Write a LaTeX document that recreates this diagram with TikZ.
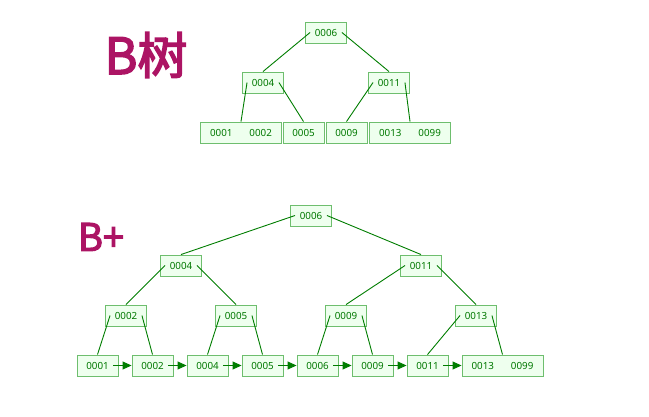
\documentclass[tikz,border=0pt]{standalone}
\usepackage{fontspec}
\setmainfont{Noto Sans}
\newfontfamily\cjk[AutoFakeBold=3]{Noto Sans CJK SC}
\usetikzlibrary{arrows.meta}
\definecolor{keytext}{RGB}{0,120,0}
\definecolor{keyline}{RGB}{0,125,0}
\definecolor{boxdraw}{RGB}{110,190,110}
\definecolor{boxfill}{RGB}{238,255,238}
\definecolor{title}{RGB}{172,20,100}
\tikzset{
  x=1pt, y=1pt,
  keybox/.style={draw=boxdraw, fill=boxfill, line width=0.9pt, minimum width=41pt, minimum height=21pt,
    inner sep=0pt, text=keytext, font=\fontsize{9.8}{10}\selectfont},
  widebox/.style={keybox, minimum width=81pt},
  edge/.style={draw=keyline, line width=0.9pt},
  link/.style={draw=keyline, line width=0.9pt, -{Triangle[length=9pt,width=8pt]}},
  titletext/.style={text=title, inner sep=0pt, font=\cjk\bfseries\fontsize{50}{54}\selectfont},
  titlesmall/.style={titletext, font=\cjk\bfseries\fontsize{38}{42}\selectfont}
}
\begin{document}
\begin{tikzpicture}
\useasboundingbox (0,0) rectangle (649,-417);
% titles
\node[titletext] (t1) at (146,-55) {B树};
\node[titlesmall] (t2) at (101,-237) {B+};

% B tree
\node[keybox] (a6) at (326,-32.5) {0006};
\node[keybox] (a4) at (263,-82.5) {0004};
\node[keybox] (a11) at (389,-82.5) {0011};
\node[widebox] (l1) at (241,-132.5) {0001\hspace{17pt}0002};
\node[keybox] (l2) at (303.5,-132.5) {0005};
\node[keybox] (l3) at (346.5,-132.5) {0009};
\node[widebox] (l4) at (410,-132.5) {0013\hspace{17pt}0099};

\draw[edge] ([xshift=5pt]a6.west) -- (a4.north);
\draw[edge] ([xshift=-5pt]a6.east) -- (a11.north);
\draw[edge] ([xshift=5pt]a4.west) -- (l1.north);
\draw[edge] ([xshift=-5pt]a4.east) -- (l2.north);
\draw[edge] ([xshift=5pt]a11.west) -- (l3.north);
\draw[edge] ([xshift=-5pt]a11.east) -- (l4.north);

% B+ tree
\node[keybox] (b6) at (311,-215.5) {0006};
\node[keybox] (b4) at (181,-265.5) {0004};
\node[keybox] (b11) at (421,-265.5) {0011};
\node[keybox] (c2) at (126,-315.5) {0002};
\node[keybox] (c5) at (236,-315.5) {0005};
\node[keybox] (c9) at (346,-315.5) {0009};
\node[keybox] (c13) at (476,-315.5) {0013};
\node[keybox] (d1) at (97.5,-365.5) {0001};
\node[keybox] (d2) at (152.5,-365.5) {0002};
\node[keybox] (d4) at (207.5,-365.5) {0004};
\node[keybox] (d5) at (262.5,-365.5) {0005};
\node[keybox] (d6) at (317.5,-365.5) {0006};
\node[keybox] (d9) at (372.5,-365.5) {0009};
\node[keybox] (d11) at (427.5,-365.5) {0011};
\node[widebox] (d13) at (502.5,-365.5) {0013\hspace{17pt}0099};

\draw[edge] ([xshift=5pt]b6.west) -- (b4.north);
\draw[edge] ([xshift=-5pt]b6.east) -- (b11.north);
\draw[edge] ([xshift=5pt]b4.west) -- (c2.north);
\draw[edge] ([xshift=-5pt]b4.east) -- (c5.north);
\draw[edge] ([xshift=5pt]b11.west) -- (c9.north);
\draw[edge] ([xshift=-5pt]b11.east) -- (c13.north);
\draw[edge] ([xshift=5pt]c2.west) -- (d1.north);
\draw[edge] ([xshift=-5pt]c2.east) -- (d2.north);
\draw[edge] ([xshift=5pt]c5.west) -- (d4.north);
\draw[edge] ([xshift=-5pt]c5.east) -- (d5.north);
\draw[edge] ([xshift=5pt]c9.west) -- (d6.north);
\draw[edge] ([xshift=-5pt]c9.east) -- (d9.north);
\draw[edge] ([xshift=5pt]c13.west) -- (d11.north);
\draw[edge] ([xshift=-5pt]c13.east) -- (d13.north);

\draw[link] ([xshift=-5pt]d1.east) -- (d2.west);
\draw[link] ([xshift=-5pt]d2.east) -- (d4.west);
\draw[link] ([xshift=-5pt]d4.east) -- (d5.west);
\draw[link] ([xshift=-5pt]d5.east) -- (d6.west);
\draw[link] ([xshift=-5pt]d6.east) -- (d9.west);
\draw[link] ([xshift=-5pt]d9.east) -- (d11.west);
\draw[link] ([xshift=-5pt]d11.east) -- (d13.west);
\end{tikzpicture}
\end{document}
